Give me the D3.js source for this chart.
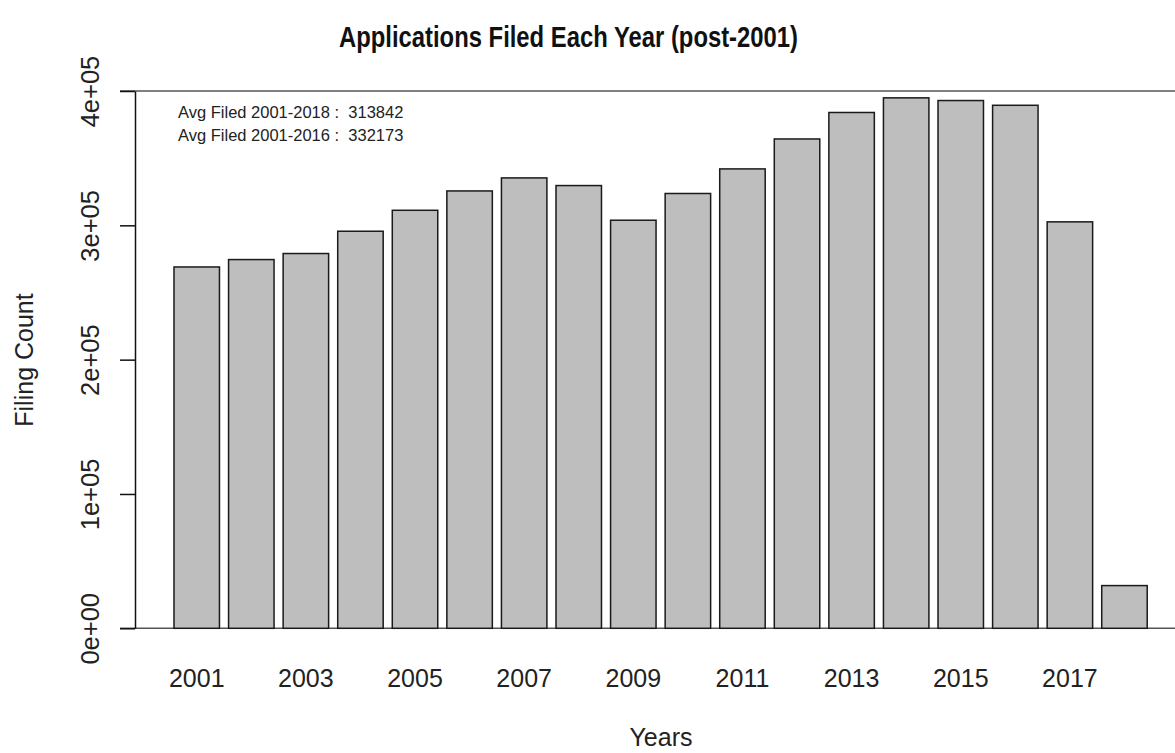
<!DOCTYPE html>
<html>
<head>
<meta charset="utf-8">
<script src="https://cdn.jsdelivr.net/npm/d3@7"></script>
<style>
  html, body { margin: 0; padding: 0; background: #fff; }
  svg { display: block; font-family: "Liberation Sans", Arial, Helvetica, sans-serif; }
</style>
</head>
<body>
<svg id="chart" width="1175" height="753"></svg>
<script>
// ---- data ----
const years = ["2001","2002","2003","2004","2005","2006","2007","2008","2009",
               "2010","2011","2012","2013","2014","2015","2016","2017","2018"];
const filings = [269000, 274500, 279000, 295600, 311200, 325600, 335300, 329600, 303800,
                 323700, 342000, 364300, 384000, 394900, 392900, 389368, 302588, 31800];
const yTickValues = [0, 100000, 200000, 300000, 400000];
const yTickLabels = ["0e+00", "1e+05", "2e+05", "3e+05", "4e+05"];
const xTickLabels = ["2001","2003","2005","2007","2009","2011","2013","2015","2017"];
const titleText = "Applications Filed Each Year (post-2001)";
const xTitle = "Years";
const yTitle = "Filing Count";

// ---- layout ----
const svg = d3.select("#chart");
const x = d3.scaleBand()
  .domain(years)
  .range([164.9, 1156.3])
  .paddingInner(1/6)
  .paddingOuter(1/6);
const y = d3.scaleLinear().domain([0, 400000]).range([628.3, 91]);

// reference lines at 0 and 4e+05
svg.selectAll("line.href")
  .data([0, 400000])
  .join("line")
  .attr("class", "href")
  .attr("x1", 120).attr("x2", 1175)
  .attr("y1", d => y(d)).attr("y2", d => y(d))
  .attr("stroke", "#555").attr("stroke-width", 1.5);

// bars
svg.selectAll("rect.bar")
  .data(years.map((yr, i) => ({ yr, v: filings[i] })))
  .join("rect")
  .attr("class", "bar")
  .attr("x", d => x(d.yr))
  .attr("width", x.bandwidth())
  .attr("y", d => y(d.v))
  .attr("height", d => y(0) - y(d.v))
  .attr("fill", "#bebebe")
  .attr("stroke", "#1a1a1a")
  .attr("stroke-width", 1.5);

// y axis
const yAxis = d3.axisLeft(y)
  .tickValues(yTickValues)
  .tickFormat((d, i) => yTickLabels[i])
  .tickSize(15)
  .tickSizeOuter(0);
const gy = svg.append("g").attr("transform", "translate(135,0)").call(yAxis);
gy.select(".domain").attr("stroke", "#111").attr("stroke-width", 1.5);
gy.selectAll(".tick line").attr("stroke", "#111").attr("stroke-width", 1.5);
gy.selectAll(".tick text")
  .attr("font-size", 25.5)
  .attr("fill", "#222")
  .attr("font-family", "Liberation Sans, Arial, sans-serif")
  .attr("text-anchor", "middle")
  .attr("x", null).attr("dy", null)
  .attr("transform", "translate(-36,0) rotate(-90)");

// x axis labels (every other year)
const xAxis = d3.axisBottom(x)
  .tickValues(xTickLabels)
  .tickSize(0);
const gx = svg.append("g").attr("transform", "translate(0,628.3)").call(xAxis);
gx.select(".domain").remove();
gx.selectAll(".tick text")
  .attr("font-size", 25)
  .attr("fill", "#222")
  .attr("font-family", "Liberation Sans, Arial, sans-serif")
  .attr("dy", null)
  .attr("y", 58.5);

// title
svg.append("text")
  .attr("x", 568.5).attr("y", 47)
  .attr("text-anchor", "middle")
  .attr("font-size", 30)
  .attr("font-weight", "bold")
  .attr("fill", "#111")
  .attr("textLength", 459)
  .attr("lengthAdjust", "spacingAndGlyphs")
  .text(titleText);

// axis titles
svg.append("text")
  .attr("x", 661).attr("y", 746)
  .attr("text-anchor", "middle")
  .attr("font-size", 25)
  .attr("fill", "#222")
  .text(xTitle);

svg.append("text")
  .attr("transform", "translate(33,360) rotate(-90)")
  .attr("text-anchor", "middle")
  .attr("font-size", 25)
  .attr("fill", "#222")
  .text(yTitle);

// averages annotation
const avgAll = Math.round(d3.mean(filings));
const avg16 = Math.round(d3.mean(filings.slice(0, 16)));
const notes = [
  "Avg Filed " + years[0] + "-" + years[years.length - 1] + " :  " + avgAll,
  "Avg Filed " + years[0] + "-" + years[15] + " :  " + avg16
];
svg.selectAll("text.note")
  .data(notes)
  .join("text")
  .attr("class", "note")
  .attr("x", 178)
  .attr("y", (d, i) => 118 + i * 23)
  .attr("font-size", 16.5)
  .attr("fill", "#222")
  .style("white-space", "pre")
  .attr("xml:space", "preserve")
  .text(d => d);
</script>
</body>
</html>
